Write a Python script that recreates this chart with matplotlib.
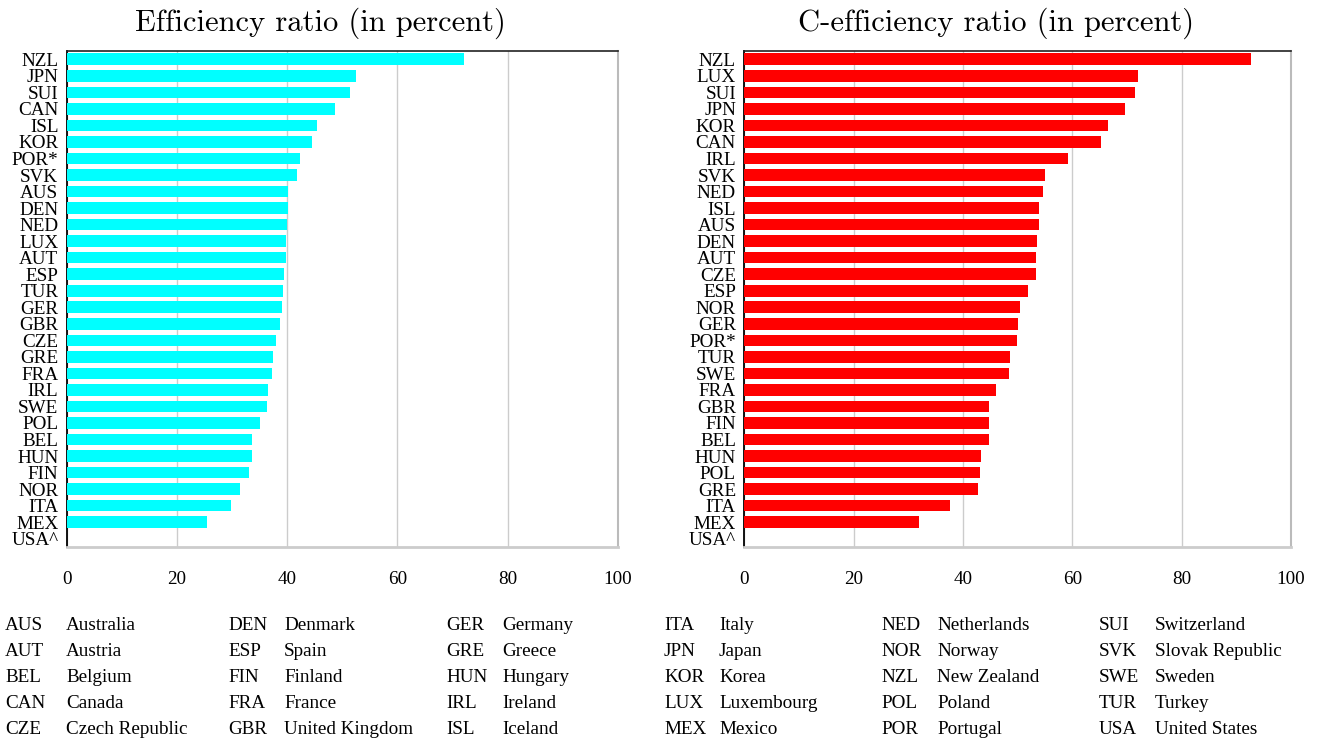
import matplotlib
matplotlib.use("Agg")
import matplotlib.pyplot as plt

# ---- data ----
left_codes = ["NZL", "JPN", "SUI", "CAN", "ISL", "KOR", "POR*", "SVK", "AUS", "DEN",
              "NED", "LUX", "AUT", "ESP", "TUR", "GER", "GBR", "CZE", "GRE", "FRA",
              "IRL", "SWE", "POL", "BEL", "HUN", "FIN", "NOR", "ITA", "MEX", "USA^"]
left_values = [72.0, 52.5, 51.4, 48.7, 45.4, 44.5, 42.3, 41.8, 40.1, 40.1,
               40.0, 39.8, 39.8, 39.4, 39.2, 39.0, 38.7, 38.0, 37.4, 37.2,
               36.5, 36.3, 35.1, 33.6, 33.6, 33.1, 31.4, 29.8, 25.4, 0.0]

right_codes = ["NZL", "LUX", "SUI", "JPN", "KOR", "CAN", "IRL", "SVK", "NED", "ISL",
               "AUS", "DEN", "AUT", "CZE", "ESP", "NOR", "GER", "POR*", "TUR", "SWE",
               "FRA", "GBR", "FIN", "BEL", "HUN", "POL", "GRE", "ITA", "MEX", "USA^"]
right_values = [92.6, 72.0, 71.5, 69.6, 66.5, 65.2, 59.2, 55.0, 54.6, 53.9,
                53.9, 53.6, 53.4, 53.4, 51.9, 50.5, 50.1, 49.8, 48.6, 48.4,
                46.1, 44.8, 44.7, 44.7, 43.3, 43.2, 42.8, 37.7, 31.9, 0.0]

x_ticks = [0, 20, 40, 60, 80, 100]

legend_codes = ["AUS", "AUT", "BEL", "CAN", "CZE", "DEN", "ESP", "FIN", "FRA", "GBR",
                "GER", "GRE", "HUN", "IRL", "ISL", "ITA", "JPN", "KOR", "LUX", "MEX",
                "NED", "NOR", "NZL", "POL", "POR", "SUI", "SVK", "SWE", "TUR", "USA"]
legend_names = ["Australia", "Austria", "Belgium", "Canada", "Czech Republic",
                "Denmark", "Spain", "Finland", "France", "United Kingdom",
                "Germany", "Greece", "Hungary", "Ireland", "Iceland",
                "Italy", "Japan", "Korea", "Luxembourg", "Mexico",
                "Netherlands", "Norway", "New Zealand", "Poland", "Portugal",
                "Switzerland", "Slovak Republic", "Sweden", "Turkey", "United States"]

W, H = 1321, 740
fig = plt.figure(figsize=(W / 100, H / 100), dpi=100)

serif = ["Liberation Serif", "DejaVu Serif"]


def make_panel(x0, x1, codes, values, color, title, title_cx):
    top, bottom = 51, 547
    ax = fig.add_axes([x0 / W, 1 - bottom / H, (x1 - x0) / W, (bottom - top) / H])
    y = list(range(len(codes)))
    ax.barh(y, values, height=0.7, color=color, zorder=3)
    ax.set_ylim(len(codes) - 0.5, -0.5)
    ax.set_xlim(0, 100)
    ax.set_xticks(x_ticks)
    ax.set_xticklabels([str(t) for t in x_ticks], fontfamily=serif, fontsize=13.8)
    ax.set_yticks(y)
    ax.set_yticklabels(codes, fontfamily=serif, fontsize=13.8)
    ax.tick_params(axis="y", length=0, pad=6)
    ax.tick_params(axis="x", length=0, pad=17)
    ax.grid(axis="x", color="#cccccc", linewidth=1.0, zorder=0)
    ax.spines["left"].set_color("black")
    ax.spines["left"].set_linewidth(1.3)
    ax.spines["top"].set_color("#222222")
    ax.spines["top"].set_linewidth(1.2)
    ax.spines["right"].set_color("#bbbbbb")
    ax.spines["right"].set_linewidth(1.5)
    ax.spines["bottom"].set_color("#cccccc")
    ax.spines["bottom"].set_linewidth(2.0)
    fig.text(title_cx / W, 1 - 23 / H, title, fontfamily="cmr10", fontsize=22,
             ha="center", va="center")
    return ax


make_panel(66.7, 618, left_codes, left_values, "#00ffff",
           "Efficiency ratio (in percent)", 320.5)
make_panel(744.3, 1291, right_codes, right_values, "#ff0000",
           "C-efficiency ratio (in percent)", 996)

col_code_x = [5, 228, 446, 664, 881, 1099]
col_name_x = [66, 284, 502, 719, 937, 1155]
row_y = [626, 652, 678, 704, 730]
for i, (c, n) in enumerate(zip(legend_codes, legend_names)):
    col, row = divmod(i, 5)
    fig.text(col_code_x[col] / W, 1 - row_y[row] / H, c, fontfamily=serif,
             fontsize=13.8, va="center", ha="left")
    fig.text(col_name_x[col] / W, 1 - row_y[row] / H, n, fontfamily=serif,
             fontsize=13.8, va="center", ha="left")

fig.savefig("out.png", dpi=100)
